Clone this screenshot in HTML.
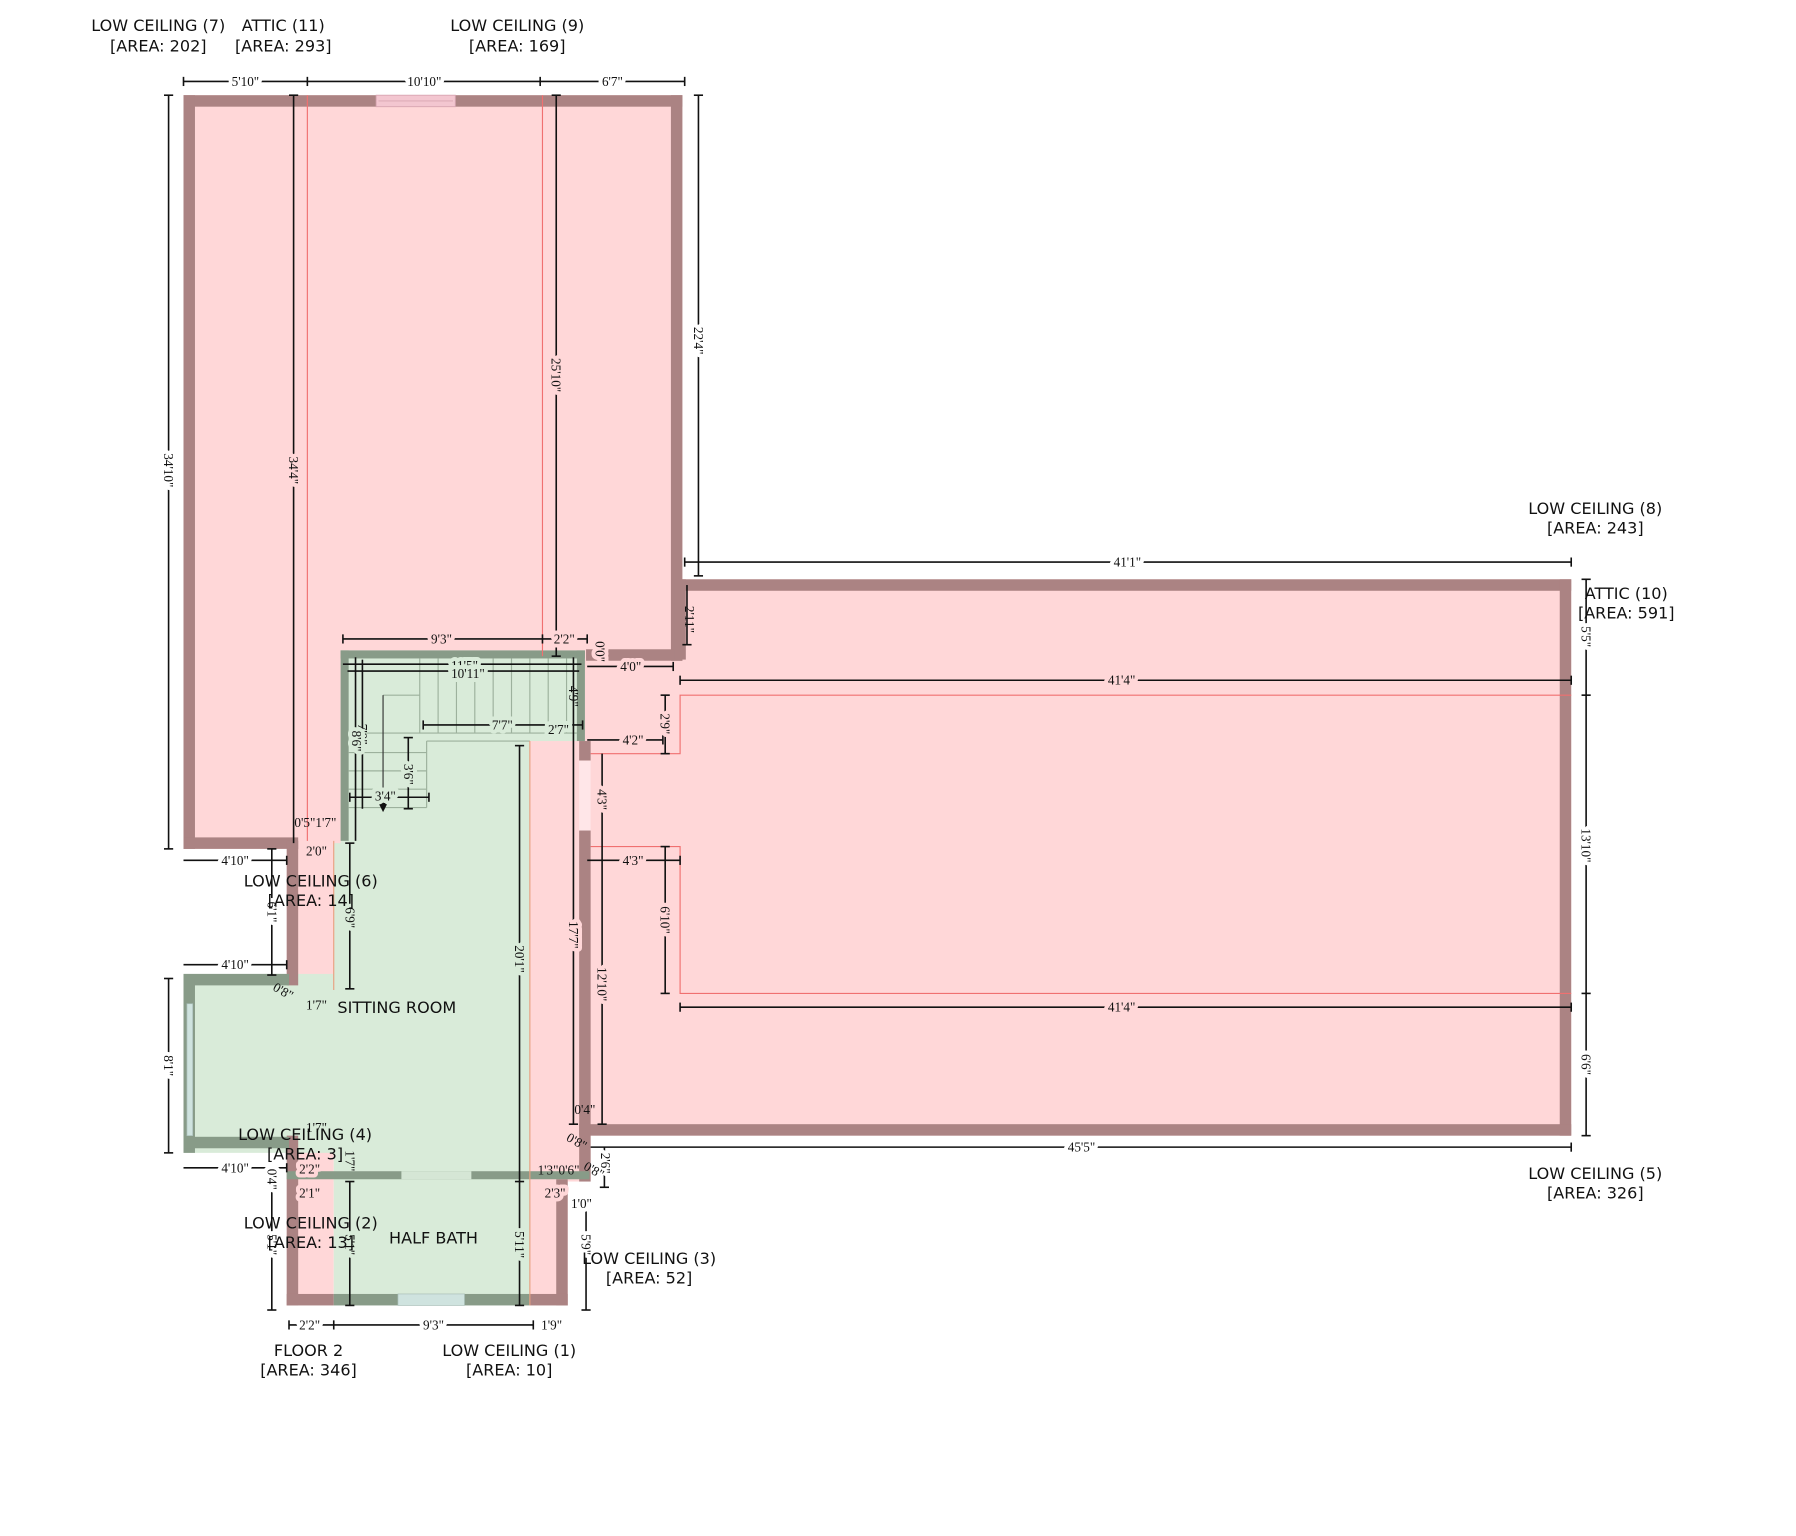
<!DOCTYPE html>
<html><head><meta charset="utf-8"><style>
html,body{margin:0;padding:0;background:#fff;}
svg{display:block;}
.l{font-family:"DejaVu Sans","Liberation Sans",sans-serif;font-size:14px;fill:#111;text-anchor:middle;}
.d line{stroke:#111;stroke-width:1.4;}
.t{font-family:"Liberation Serif",serif;font-size:11.5px;fill:#111;text-anchor:middle;dominant-baseline:central;paint-order:stroke;stroke-width:7px;stroke-linejoin:round;}
.w{stroke:#fff}.p{stroke:#FFD7D8}.g{stroke:#D9EBD9}.n{stroke:none}
</style></head><body>
<svg width="1796" height="1536" viewBox="0 0 1566 1339" preserveAspectRatio="none" xmlns="http://www.w3.org/2000/svg">
<g fill="#FFD7D8">
<rect x="160" y="83" width="435" height="657"/>
<rect x="505" y="505" width="865" height="485"/>
<rect x="462" y="572" width="53" height="458"/>
<rect x="250" y="733" width="47" height="130"/>
<rect x="250" y="990" width="41" height="148"/>
<rect x="462" y="1028" width="33" height="110"/>
</g>
<g fill="#D9EBD9">
<rect x="297" y="567" width="213" height="79"/>
<rect x="297" y="567" width="165" height="463"/>
<rect x="291" y="735" width="171" height="295"/>
<rect x="160" y="849" width="145" height="156"/>
<rect x="291" y="1028" width="171" height="110"/>
</g>
<g fill="#AB8383">
<rect x="160" y="83" width="435" height="10"/>
<rect x="160" y="83" width="10" height="657"/>
<rect x="585" y="83" width="10" height="493"/>
<rect x="160" y="730" width="100" height="10"/>
<rect x="511" y="566" width="84" height="10"/>
<rect x="590" y="505" width="780" height="10"/>
<rect x="588" y="505" width="10" height="70"/>
<rect x="1360" y="505" width="10" height="485"/>
<rect x="505" y="980" width="865" height="10"/>
<rect x="505" y="646" width="10" height="17"/>
<rect x="505" y="724" width="10" height="306"/>
<rect x="250" y="733" width="10" height="126"/>
<rect x="250" y="990" width="10" height="148"/>
<rect x="485" y="1028" width="10" height="110"/>
<rect x="250" y="1128" width="41" height="10"/>
<rect x="462" y="1128" width="33" height="10"/>
</g>
<rect x="505" y="663" width="10" height="61" fill="#FFE6E8"/>
<rect x="328" y="83" width="69" height="10" fill="#F3C6D0" stroke="#D8A6B2" stroke-width="0.8"/>
<line x1="330" y1="88" x2="395" y2="88" stroke="#D8A6B2" stroke-width="0.8"/>
<g fill="#889B88">
<rect x="297" y="567" width="213" height="7"/>
<rect x="297" y="567" width="7" height="166"/>
<rect x="503" y="567" width="7" height="79"/>
<rect x="160" y="849" width="92" height="10"/>
<rect x="160" y="853" width="10" height="152"/>
<rect x="160" y="991" width="92" height="10"/>
<rect x="250" y="1021" width="264" height="7"/>
<rect x="291" y="1128" width="171" height="10"/>
</g>
<rect x="163" y="875" width="5" height="115" fill="#CFE3DF" stroke="#A9BFB9" stroke-width="0.6"/>
<rect x="350" y="1021" width="61" height="7" fill="#D5E6D5"/>
<rect x="347" y="1128" width="58" height="10" fill="#CFE3DF" stroke="#A9BFB9" stroke-width="0.6"/>
<g stroke="#9DB19D" stroke-width="1" fill="none">
<line x1="366" y1="574" x2="366" y2="639"/><line x1="382" y1="574" x2="382" y2="639"/><line x1="398" y1="574" x2="398" y2="639"/><line x1="414" y1="574" x2="414" y2="639"/><line x1="430" y1="574" x2="430" y2="639"/><line x1="446" y1="574" x2="446" y2="639"/><line x1="462" y1="574" x2="462" y2="639"/><line x1="478" y1="574" x2="478" y2="639"/><line x1="494" y1="574" x2="494" y2="639"/>
<line x1="304" y1="639" x2="503" y2="639"/>
<line x1="334" y1="606" x2="366" y2="606"/>
<line x1="304" y1="656" x2="372" y2="656"/><line x1="304" y1="672" x2="372" y2="672"/><line x1="304" y1="688" x2="372" y2="688"/><line x1="304" y1="704" x2="372" y2="704"/>
<line x1="372" y1="646" x2="372" y2="704"/><line x1="372" y1="646" x2="462" y2="646"/>
</g>
<line x1="334" y1="606" x2="334" y2="700" stroke="#333" stroke-width="1"/>
<polygon points="330,700 338,700 334,708" fill="#111"/>
<g stroke="#F07070" stroke-width="1" fill="none">
<line x1="268" y1="83" x2="268" y2="733"/>
<line x1="473" y1="83" x2="473" y2="572"/>
<polyline points="1370,606 593,606 593,657 515,657"/>
<polyline points="515,738 593,738 593,866 1370,866"/>
<line x1="462" y1="646" x2="462" y2="1138" stroke="#E8A080"/>
<line x1="291" y1="733" x2="291" y2="863" stroke="#E8A080"/>
</g>
<g class="d">
<line x1="160" y1="71" x2="597" y2="71"/>
<line x1="160" y1="67" x2="160" y2="75"/><line x1="268" y1="67" x2="268" y2="75"/><line x1="471" y1="67" x2="471" y2="75"/><line x1="597" y1="67" x2="597" y2="75"/>
<line x1="147" y1="83" x2="147" y2="740"/><line x1="143" y1="83" x2="151" y2="83"/><line x1="143" y1="740" x2="151" y2="740"/>
<line x1="256" y1="83" x2="256" y2="735"/><line x1="252" y1="83" x2="260" y2="83"/>
<line x1="485" y1="83" x2="485" y2="572"/><line x1="481" y1="83" x2="489" y2="83"/><line x1="481" y1="572" x2="489" y2="572"/>
<line x1="609" y1="83" x2="609" y2="502"/><line x1="605" y1="83" x2="613" y2="83"/><line x1="605" y1="502" x2="613" y2="502"/>
<line x1="597" y1="490" x2="1370" y2="490"/><line x1="597" y1="486" x2="597" y2="494"/><line x1="1370" y1="486" x2="1370" y2="494"/>
<line x1="599" y1="510" x2="599" y2="562"/><line x1="595" y1="562" x2="603" y2="562"/>
<line x1="299" y1="557" x2="512" y2="557"/><line x1="299" y1="553" x2="299" y2="561"/><line x1="473" y1="553" x2="473" y2="561"/><line x1="512" y1="553" x2="512" y2="561"/>
<line x1="299" y1="579" x2="507" y2="579"/><line x1="303" y1="585" x2="505" y2="585"/>
<line x1="310" y1="573" x2="310" y2="733"/><line x1="316" y1="575" x2="316" y2="705"/>
<line x1="500" y1="573" x2="500" y2="646"/>
<line x1="512" y1="581" x2="587" y2="581"/><line x1="587" y1="577" x2="587" y2="585"/>
<line x1="369" y1="632" x2="508" y2="632"/><line x1="369" y1="628" x2="369" y2="636"/><line x1="508" y1="628" x2="508" y2="636"/>
<line x1="512" y1="645" x2="578" y2="645"/><line x1="578" y1="641" x2="578" y2="649"/>
<line x1="580" y1="606" x2="580" y2="657"/><line x1="576" y1="606" x2="584" y2="606"/><line x1="576" y1="657" x2="584" y2="657"/>
<line x1="356" y1="643" x2="356" y2="705"/><line x1="352" y1="643" x2="360" y2="643"/><line x1="352" y1="705" x2="360" y2="705"/>
<line x1="305" y1="695" x2="374" y2="695"/><line x1="305" y1="691" x2="305" y2="699"/><line x1="374" y1="691" x2="374" y2="699"/>
<line x1="525" y1="657" x2="525" y2="980"/><line x1="521" y1="980" x2="529" y2="980"/>
<line x1="512" y1="750" x2="593" y2="750"/><line x1="593" y1="746" x2="593" y2="754"/>
<line x1="580" y1="738" x2="580" y2="866"/><line x1="576" y1="738" x2="584" y2="738"/><line x1="576" y1="866" x2="584" y2="866"/>
<line x1="453" y1="650" x2="453" y2="1138"/><line x1="449" y1="650" x2="457" y2="650"/><line x1="449" y1="1030" x2="457" y2="1030"/><line x1="449" y1="1138" x2="457" y2="1138"/>
<line x1="500" y1="646" x2="500" y2="980"/><line x1="496" y1="980" x2="504" y2="980"/>
<line x1="305" y1="735" x2="305" y2="862"/><line x1="301" y1="735" x2="309" y2="735"/><line x1="301" y1="862" x2="309" y2="862"/>
<line x1="160" y1="750" x2="250" y2="750"/><line x1="250" y1="746" x2="250" y2="754"/>
<line x1="160" y1="841" x2="250" y2="841"/><line x1="250" y1="837" x2="250" y2="845"/>
<line x1="237" y1="740" x2="237" y2="850"/><line x1="233" y1="740" x2="241" y2="740"/><line x1="233" y1="850" x2="241" y2="850"/>
<line x1="160" y1="1018" x2="250" y2="1018"/><line x1="250" y1="1014" x2="250" y2="1022"/>
<line x1="147" y1="853" x2="147" y2="1005"/><line x1="143" y1="853" x2="151" y2="853"/><line x1="143" y1="1005" x2="151" y2="1005"/>
<line x1="237" y1="1030" x2="237" y2="1142"/><line x1="233" y1="1142" x2="241" y2="1142"/>
<line x1="305" y1="1030" x2="305" y2="1138"/><line x1="301" y1="1030" x2="309" y2="1030"/><line x1="301" y1="1138" x2="309" y2="1138"/>
<line x1="511" y1="1045" x2="511" y2="1142"/><line x1="507" y1="1142" x2="515" y2="1142"/>
<line x1="527" y1="1000" x2="527" y2="1035"/><line x1="523" y1="1035" x2="531" y2="1035"/>
<line x1="252" y1="1155" x2="465" y2="1155"/><line x1="252" y1="1151" x2="252" y2="1159"/><line x1="291" y1="1151" x2="291" y2="1159"/><line x1="465" y1="1151" x2="465" y2="1159"/>
<line x1="515" y1="1000" x2="1370" y2="1000"/><line x1="1370" y1="996" x2="1370" y2="1004"/>
<line x1="1383" y1="505" x2="1383" y2="990"/><line x1="1379" y1="505" x2="1387" y2="505"/><line x1="1379" y1="606" x2="1387" y2="606"/><line x1="1379" y1="866" x2="1387" y2="866"/><line x1="1379" y1="990" x2="1387" y2="990"/>
<line x1="593" y1="593" x2="1370" y2="593"/><line x1="593" y1="589" x2="593" y2="597"/><line x1="1370" y1="589" x2="1370" y2="597"/>
<line x1="593" y1="878" x2="1370" y2="878"/><line x1="593" y1="874" x2="593" y2="882"/><line x1="1370" y1="874" x2="1370" y2="882"/>
</g>
<g>
<text class="t w" x="214" y="71">5'10"</text>
<text class="t w" x="370" y="71">10'10"</text>
<text class="t w" x="534" y="71">6'7"</text>
<text class="t w" transform="translate(147,410) rotate(90)">34'10"</text>
<text class="t p" transform="translate(256,410) rotate(90)">34'4"</text>
<text class="t p" transform="translate(485,327) rotate(90)">25'10"</text>
<text class="t w" transform="translate(609,297) rotate(90)">22'4"</text>
<text class="t w" x="983" y="490">41'1"</text>
<text class="t n" transform="translate(601,540) rotate(90)">2'11"</text>
<text class="t p" x="385" y="557">9'3"</text>
<text class="t p" x="492" y="557">2'2"</text>
<text class="t p" transform="translate(523,568) rotate(90)">0'0"</text>
<text class="t p" x="550" y="581">4'0"</text>
<text class="t g" x="405" y="580">11'5"</text>
<text class="t g" x="408" y="587">10'11"</text>
<text class="t n" transform="translate(316,640) rotate(90)">7'0"</text>
<text class="t g" transform="translate(311,646) rotate(90)">8'6"</text>
<text class="t n" transform="translate(500,607) rotate(90)">4'9"</text>
<text class="t g" x="438" y="632">7'7"</text>
<text class="t g" x="487" y="636">2'7"</text>
<text class="t p" x="552" y="645">4'2"</text>
<text class="t p" transform="translate(580,631) rotate(90)">2'9"</text>
<text class="t g" transform="translate(356,675) rotate(90)">3'6"</text>
<text class="t g" x="336" y="694">3'4"</text>
<text class="t p" transform="translate(525,697) rotate(90)">4'3"</text>
<text class="t p" x="552" y="750">4'3"</text>
<text class="t p" transform="translate(580,802) rotate(90)">6'10"</text>
<text class="t p" transform="translate(525,858) rotate(90)">12'10"</text>
<text class="t g" transform="translate(453,836) rotate(90)">20'1"</text>
<text class="t p" transform="translate(500,815) rotate(90)">17'7"</text>
<text class="t g" transform="translate(305,800) rotate(90)">6'9"</text>
<text class="t n" x="275" y="717">0'5"1'7"</text>
<text class="t n" x="276" y="742">2'0"</text>
<text class="t w" x="205" y="750">4'10"</text>
<text class="t w" x="205" y="841">4'10"</text>
<text class="t w" transform="translate(237,795) rotate(90)">6'1"</text>
<text class="t n" transform="translate(247,864) rotate(30)">0'8"</text>
<text class="t g" x="276" y="876">1'7"</text>
<text class="t w" x="205" y="1018">4'10"</text>
<text class="t w" transform="translate(147,929) rotate(90)">8'1"</text>
<text class="t p" x="270" y="1019">2'2"</text>
<text class="t p" x="270" y="1040">2'1"</text>
<text class="t n" x="276" y="983">1'7"</text>
<text class="t w" transform="translate(237,1028) rotate(90)">0'4"</text>
<text class="t w" transform="translate(237,1085) rotate(90)">5'1"</text>
<text class="t g" transform="translate(305,1085) rotate(90)">5'1"</text>
<text class="t n" transform="translate(305,1012) rotate(90)">1'7"</text>
<text class="t g" transform="translate(453,1085) rotate(90)">5'11"</text>
<text class="t n" x="487" y="1020">1'3"0'6"</text>
<text class="t p" x="484" y="1040">2'3"</text>
<text class="t w" x="507" y="1049">1'0"</text>
<text class="t w" transform="translate(511,1085) rotate(90)">5'9"</text>
<text class="t w" transform="translate(528,1014) rotate(90)">2'6"</text>
<text class="t n" transform="translate(503,995) rotate(30)">0'8"</text>
<text class="t n" transform="translate(518,1020) rotate(30)">0'8"</text>
<text class="t n" x="510" y="967">0'4"</text>
<text class="t w" x="270" y="1155">2'2"</text>
<text class="t w" x="378" y="1155">9'3"</text>
<text class="t w" x="481" y="1155">1'9"</text>
<text class="t w" x="943" y="1000">45'5"</text>
<text class="t w" transform="translate(1383,555) rotate(90)">5'5"</text>
<text class="t w" transform="translate(1383,737) rotate(90)">13'10"</text>
<text class="t w" transform="translate(1383,928) rotate(90)">6'6"</text>
<text class="t p" x="978" y="593">41'4"</text>
<text class="t p" x="978" y="878">41'4"</text>
</g>
<g class="l">
<text x="138" y="27">LOW CEILING (7)</text><text x="138" y="45">[AREA: 202]</text>
<text x="247" y="27">ATTIC (11)</text><text x="247" y="45">[AREA: 293]</text>
<text x="451" y="27">LOW CEILING (9)</text><text x="451" y="45">[AREA: 169]</text>
<text x="1391" y="448">LOW CEILING (8)</text><text x="1391" y="465">[AREA: 243]</text>
<text x="1418" y="522">ATTIC (10)</text><text x="1418" y="539">[AREA: 591]</text>
<text x="1391" y="1028">LOW CEILING (5)</text><text x="1391" y="1045">[AREA: 326]</text>
<text x="271" y="773">LOW CEILING (6)</text><text x="271" y="790">[AREA: 14]</text>
<text x="346" y="883">SITTING ROOM</text>
<text x="266" y="994">LOW CEILING (4)</text><text x="266" y="1011">[AREA: 3]</text>
<text x="271" y="1071">LOW CEILING (2)</text><text x="271" y="1088">[AREA: 13]</text>
<text x="378" y="1084">HALF BATH</text>
<text x="566" y="1102">LOW CEILING (3)</text><text x="566" y="1119">[AREA: 52]</text>
<text x="269" y="1182">FLOOR 2</text><text x="269" y="1199">[AREA: 346]</text>
<text x="444" y="1182">LOW CEILING (1)</text><text x="444" y="1199">[AREA: 10]</text>
</g>
</svg>
</body></html>
